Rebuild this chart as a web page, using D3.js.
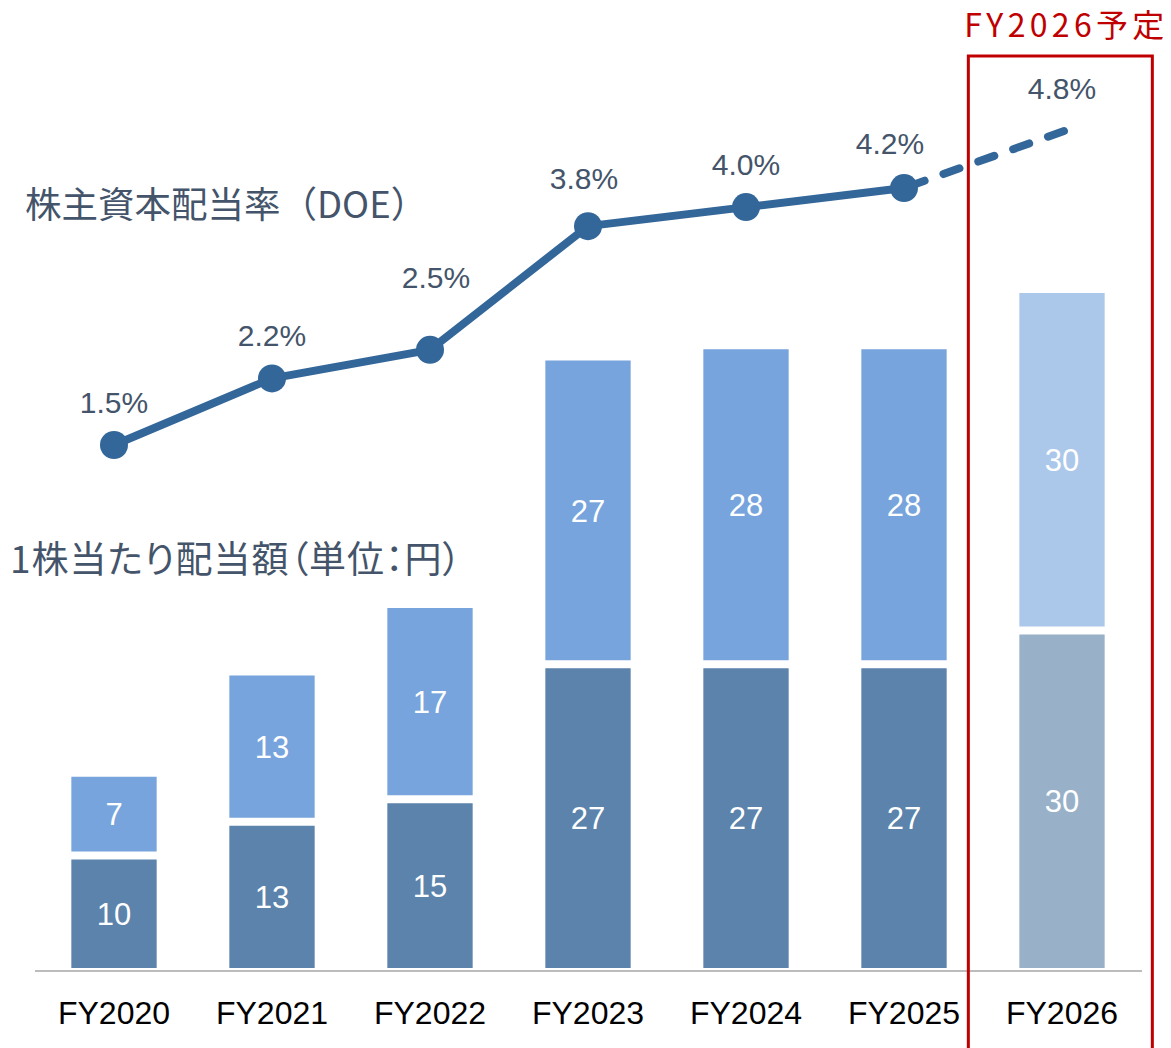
<!DOCTYPE html>
<html lang="ja">
<head>
<meta charset="UTF-8">
<title>DOE and dividend per share</title>
<script src="https://d3js.org/d3.v7.min.js"></script>
<style>
  html, body { margin: 0; padding: 0; background: #fff; }
  svg { display: block; }
</style>
</head>
<body>
<div id="chart"></div>
<script>
// data
const years = ["FY2020", "FY2021", "FY2022", "FY2023", "FY2024", "FY2025", "FY2026"];
const dpsLower = [10, 13, 15, 27, 27, 27, 30];
const dpsUpper = [7, 13, 17, 27, 28, 28, 30];
const doe = [1.5, 2.2, 2.5, 3.8, 4.0, 4.2, 4.8];
const planYear = "FY2026";

const width = 1171, height = 1048;
const textColor = "#44546a";
const lineColor = "#336699";
const red = "#c00000";

const svg = d3.select("#chart").append("svg")
    .attr("width", width)
    .attr("height", height);

const x = d3.scaleBand()
    .domain(years)
    .range([35, 1141])
    .paddingInner(0.46)
    .paddingOuter(0.23);

const y = d3.scaleLinear().domain([0, 60]).range([968, 293]);
const yDoe = d3.scaleLinear().domain([1.5, 4.8]).range([445, 131]);

const rows = years.map((yr, i) => ({
    year: yr, lo: dpsLower[i], hi: dpsUpper[i], doe: doe[i], plan: yr === planYear
}));

// stacked bars (white gap between the two parts)
const gap = 4;
const bars = svg.append("g");
bars.selectAll("rect.lo")
    .data(rows)
    .join("rect")
    .attr("class", "lo")
    .attr("x", d => x(d.year))
    .attr("width", x.bandwidth())
    .attr("y", d => y(d.lo) + gap)
    .attr("height", d => y(0) - y(d.lo) - gap)
    .attr("fill", d => d.plan ? "#98b1c9" : "#5b83ab");

bars.selectAll("rect.hi")
    .data(rows)
    .join("rect")
    .attr("class", "hi")
    .attr("x", d => x(d.year))
    .attr("width", x.bandwidth())
    .attr("y", d => y(d.lo + d.hi))
    .attr("height", d => y(d.lo) - y(d.lo + d.hi) - gap)
    .attr("fill", d => d.plan ? "#abc7ea" : "#77a4dc");

const cx = d => x(d.year) + x.bandwidth() / 2;
const num = "'Liberation Sans', Arial, sans-serif";

bars.selectAll("text.lo")
    .data(rows)
    .join("text")
    .attr("x", cx)
    .attr("y", d => (y(d.lo) + gap + y(0)) / 2)
    .attr("dy", "0.36em")
    .attr("text-anchor", "middle")
    .attr("fill", "#fff")
    .style("font", "31px " + num)
    .text(d => d.lo);

bars.selectAll("text.hi")
    .data(rows)
    .join("text")
    .attr("x", cx)
    .attr("y", d => (y(d.lo + d.hi) + y(d.lo) - gap) / 2)
    .attr("dy", "0.36em")
    .attr("text-anchor", "middle")
    .attr("fill", "#fff")
    .style("font", "31px " + num)
    .text(d => d.hi);

// baseline
svg.append("line")
    .attr("x1", 35).attr("x2", 1142)
    .attr("y1", 971).attr("y2", 971)
    .attr("stroke", "#a6a6a6")
    .attr("stroke-width", 1.5);

// x axis labels
const xAxis = svg.append("g")
    .attr("transform", "translate(0,971)")
    .call(d3.axisBottom(x).tickSize(0).tickPadding(0));
xAxis.select(".domain").remove();
xAxis.selectAll("text")
    .attr("y", 41)
    .attr("dy", "0.36em")
    .attr("fill", "#000")
    .style("font", "32px " + num);

// DOE line: solid for actuals, dashed towards the plan
const actual = rows.filter(d => !d.plan);
const line = d3.line().x(cx).y(d => yDoe(d.doe));

svg.append("path")
    .datum(actual)
    .attr("d", line)
    .attr("fill", "none")
    .attr("stroke", lineColor)
    .attr("stroke-width", 8)
    .attr("stroke-linejoin", "round");

const dashed = svg.append("path")
    .datum(rows.slice(actual.length - 1))
    .attr("d", d3.line().x(d => cx(d) + (d.plan ? 2 : 0)).y(d => yDoe(d.doe)))
    .attr("fill", "none")
    .attr("stroke", lineColor)
    .attr("stroke-width", 8)
    .attr("stroke-linecap", "round");
// make the pattern finish on a dash at the plan point
const dash = 17, dashGap = 20;
const len = dashed.node().getTotalLength();
dashed.attr("stroke-dasharray", dash + " " + dashGap)
    .attr("stroke-dashoffset", (((dash - len) % (dash + dashGap)) + dash + dashGap) % (dash + dashGap));

svg.append("g").selectAll("circle")
    .data(actual)
    .join("circle")
    .attr("cx", cx)
    .attr("cy", d => yDoe(d.doe))
    .attr("r", 14)
    .attr("fill", lineColor);

// percentage labels; a few are nudged like in the original slide
const labelNudge = {FY2022: [6, -30], FY2023: [-4, -5], FY2025: [-14, -2]};
svg.append("g").selectAll("text")
    .data(rows)
    .join("text")
    .attr("x", d => cx(d) + (labelNudge[d.year] ? labelNudge[d.year][0] : 0))
    .attr("y", d => yDoe(d.doe) - 43 + (labelNudge[d.year] ? labelNudge[d.year][1] : 0))
    .attr("dy", "0.36em")
    .attr("text-anchor", "middle")
    .attr("fill", textColor)
    .style("font", "30px " + num)
    .text(d => d3.format(".1f")(d.doe) + "%");

// series titles
const jp = "'Noto Sans CJK JP', 'Noto Sans', sans-serif";
svg.append("text")
    .attr("x", 25).attr("y", 205)
    .attr("dy", "0.36em")
    .attr("fill", textColor)
    .style("font-family", jp)
    .style("font-size", "36.5px")
    .text("株主資本配当率（DOE）");

svg.append("text")
    .attr("x", 10).attr("y", 560)
    .attr("dy", "0.36em")
    .attr("fill", textColor)
    .style("font-family", jp)
    .style("font-size", "37px")
    .style("letter-spacing", "1px")
    .style("font-feature-settings", "'palt'")
    .text("1株当たり配当額（単位：円）");

// plan frame
const px = x(planYear);
svg.append("rect")
    .attr("x", px - 51)
    .attr("y", 56)
    .attr("width", x.step() + 26)
    .attr("height", height)
    .attr("fill", "none")
    .attr("stroke", red)
    .attr("stroke-width", 3);

svg.append("text")
    .attr("x", px - 55).attr("y", 25)
    .attr("dy", "0.36em")
    .attr("fill", red)
    .attr("textLength", 200)
    .attr("lengthAdjust", "spacing")
    .style("font-family", jp)
    .style("font-size", "32px")
    .text(planYear + "予定");
</script>
</body>
</html>
